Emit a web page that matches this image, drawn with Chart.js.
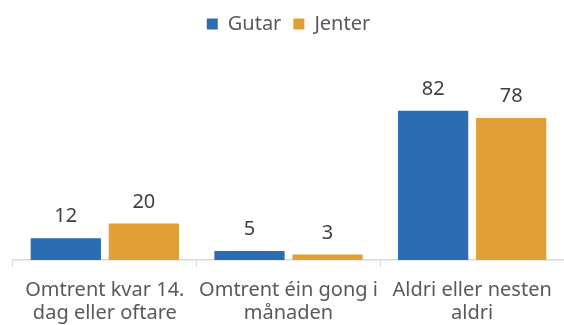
<!DOCTYPE html>
<html>
<head>
<meta charset="utf-8">
<script src="https://cdn.jsdelivr.net/npm/chart.js@4"></script>
<style>
  html, body { margin: 0; padding: 0; background: #fff; }
  #wrap { width: 564px; height: 325px; }
</style>
</head>
<body>
<div id="wrap"><canvas id="chart"></canvas></div>
<script>
const categories = [
  ["Omtrent kvar 14.", "dag eller oftare"],
  ["Omtrent éin gong i", "månaden"],
  ["Aldri eller nesten", "aldri"]
];
const seriesNames = ["Gutar", "Jenter"];
const gutar = [12, 5, 82];
const jenter = [20, 3, 78];

const FONT = "'Noto Sans', sans-serif";

// value labels above each bar
const barValues = {
  id: "barValues",
  afterDatasetsDraw(chart) {
    const ctx = chart.ctx;
    ctx.save();
    ctx.font = "20px " + FONT;
    ctx.fillStyle = "#404040";
    ctx.textAlign = "center";
    ctx.textBaseline = "alphabetic";
    chart.data.datasets.forEach((ds, i) => {
      chart.getDatasetMeta(i).data.forEach((bar, j) => {
        ctx.fillText(ds.data[j], bar.x, bar.y - 16);
      });
    });
    ctx.restore();
  }
};

// extra room between legend and bars
const legendGap = {
  id: "legendGap",
  beforeInit(chart) {
    const fit = chart.legend.fit;
    chart.legend.fit = function () {
      fit.call(this);
      this.height += 34;
    };
  }
};

new Chart(document.getElementById("chart"), {
  type: "bar",
  data: {
    labels: categories,
    datasets: [
      { label: seriesNames[0], data: gutar, backgroundColor: "#2b6cb3" },
      { label: seriesNames[1], data: jenter, backgroundColor: "#e09f37" }
    ]
  },
  options: {
    responsive: true,
    maintainAspectRatio: false,
    animation: false,
    categoryPercentage: 0.85,
    barPercentage: 0.9,
    layout: { padding: { left: 13, right: 0, top: 2, bottom: 0 } },
    plugins: {
      tooltip: { enabled: false },
      legend: {
        position: "top",
        labels: {
          boxWidth: 11,
          boxHeight: 11,
          color: "#595959",
          font: { family: FONT, size: 20 },
          padding: 12
        }
      }
    },
    scales: {
      x: {
        grid: {
          display: true,
          drawOnChartArea: false,
          offset: true,
          tickLength: 7,
          color: "#d9d9d9"
        },
        border: { color: "#d9d9d9", width: 1.5 },
        ticks: {
          color: "#595959",
          font: { family: FONT, size: 20, lineHeight: 1.15 },
          padding: 12,
          maxRotation: 0,
          autoSkip: false
        },
        afterFit(scale) { scale.height = 65; }
      },
      y: {
        display: false,
        min: 0,
        max: 100
      }
    }
  },
  plugins: [barValues, legendGap]
});
</script>
</body>
</html>
